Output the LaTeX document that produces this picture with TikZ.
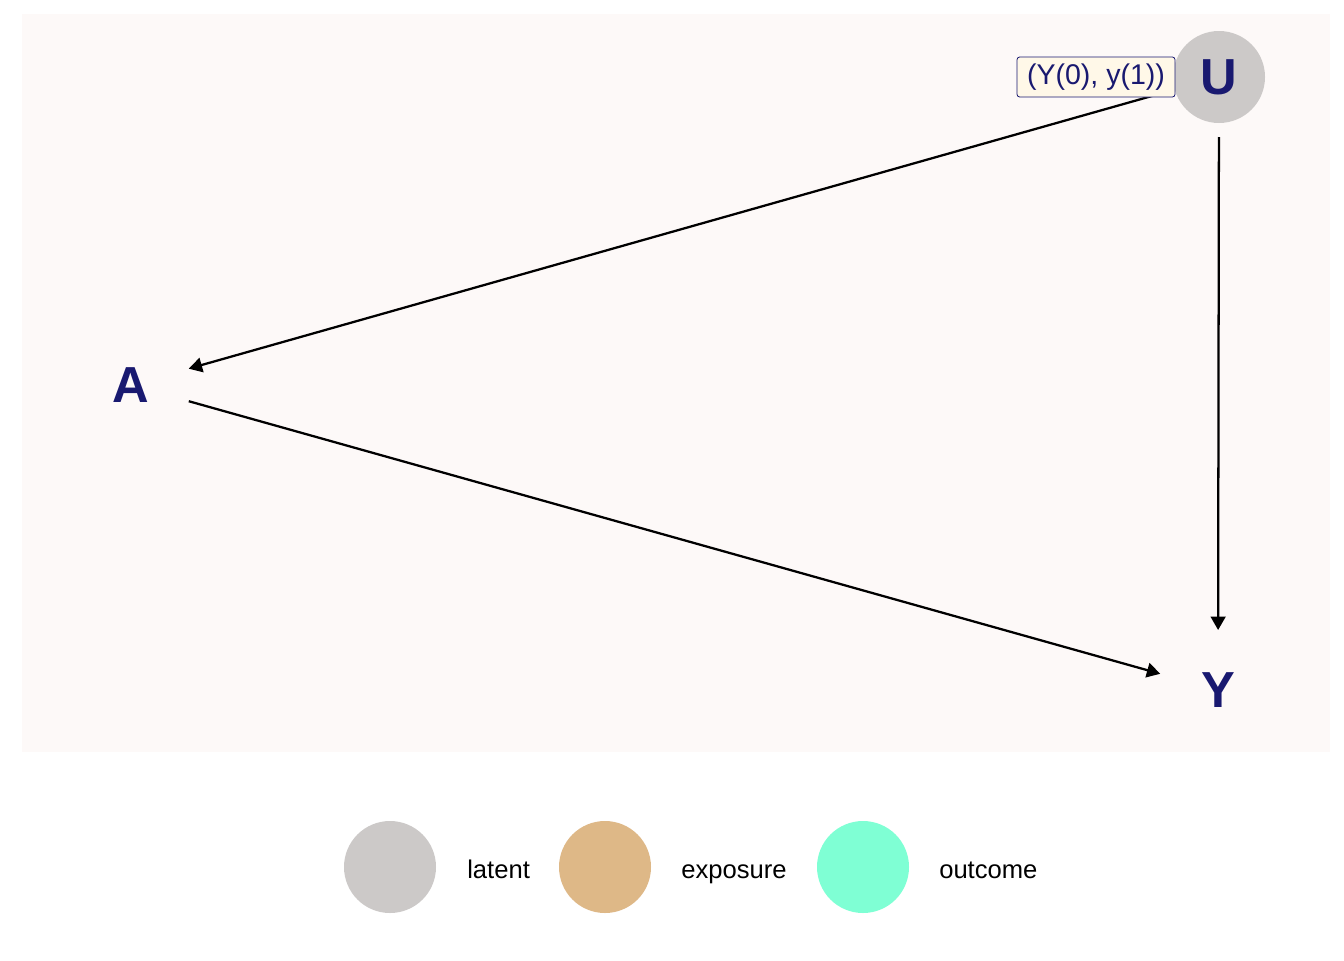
\documentclass[tikz,border=0pt]{standalone}
\usepackage{fontspec}
\setmainfont{Liberation Sans}
\usetikzlibrary{arrows.meta}
\definecolor{panelbg}{HTML}{FDF9F8}
\definecolor{navy}{HTML}{191970}
\definecolor{latentc}{HTML}{CCC9C8}
\definecolor{exposurec}{HTML}{DEB887}
\definecolor{outcomec}{HTML}{7FFFD4}
\definecolor{labelbg}{HTML}{FFF8E8}
\tikzset{
  dagnode/.style={circle, minimum size=69pt, inner sep=0pt, outer sep=10.5pt, text=navy,
    font=\fontsize{38}{40}\selectfont\bfseries},
  edge/.style={line width=1.7pt, -{Triangle[length=10pt,width=11pt]}},
  legdot/.style={circle, minimum size=69pt, inner sep=0pt},
  legtext/.style={anchor=base west, inner sep=0pt, font=\fontsize{19.2}{21}\selectfont, text=black},
  edgelabel/.style={draw=navy, line width=0.6pt, fill=labelbg, rounded corners=2pt,
    text=navy, font=\fontsize{21.4}{23}\selectfont, minimum width=118.5pt, minimum height=30pt, inner sep=0pt}
}
\begin{document}
\begin{tikzpicture}[x=0.75pt, y=-0.75pt]
\useasboundingbox (0,0) rectangle (1344,960);
\fill[white] (0,0) rectangle (1344,960);
\fill[panelbg] (22,14) rectangle (1330,752);
\node[dagnode, fill=latentc] (U) at (1219,77) {U};
\node[dagnode] (A) at (131,385) {A};
\node[dagnode] (Y) at (1218,690) {Y};
\draw[edge] (U) -- (A);
\draw[edge] (U) -- (Y);
\draw[edge] (A) -- (Y);
\node[edgelabel] (lab) at (1096,77) {(Y(0), y(1))};
\node[legdot, fill=latentc] (l1) at (390,867) {};
\node[legtext] (t1) at (467,878) {latent};
\node[legdot, fill=exposurec] (l2) at (605,867) {};
\node[legtext] (t2) at (681,878) {exposure};
\node[legdot, fill=outcomec] (l3) at (863,867) {};
\node[legtext] (t3) at (939,878) {outcome};
\end{tikzpicture}
\end{document}
